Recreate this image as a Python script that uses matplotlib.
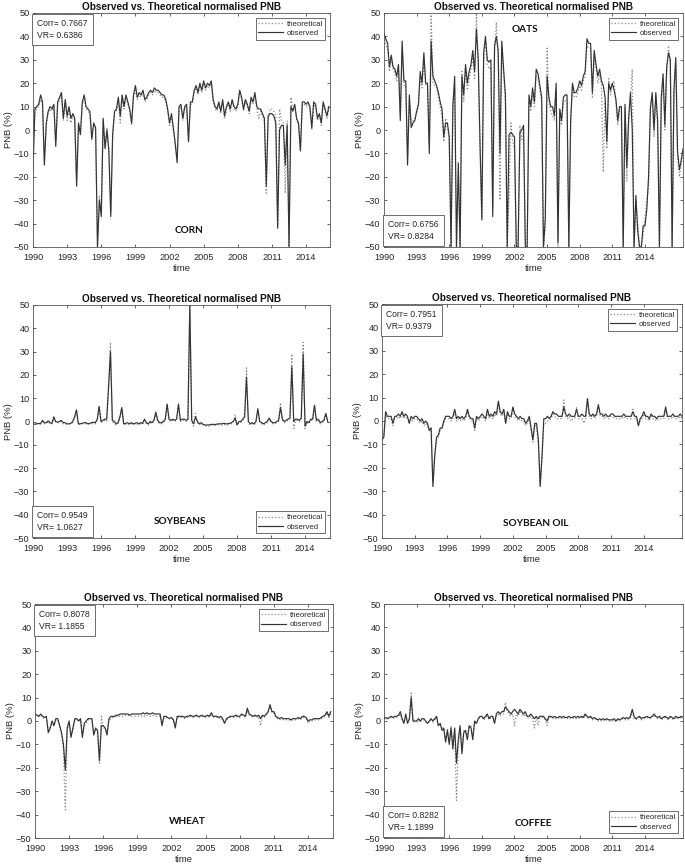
import numpy as np
import matplotlib
matplotlib.use('Agg')
from matplotlib import pyplot as plt

plt.rcParams['font.family'] = ['Liberation Sans', 'DejaVu Sans']

# bimonthly samples starting Jan 1990 (Jan, Mar, May, Jul, Sep, Nov)
corn_obs = [-17, 9, 10, 11, 15, 12, -15, 3, 8, 10, 9, 11, -7, 12, 14, 16, 5, 13,
            6, 10, 5, 7, 5, -24, 3, -2, 12, 15, 10, 9, 8, -4, 3, 1, -50, -30,
            -37, 5, -8, 0, -9, -37, -2, 8, 9, 14, 6, 15, 10, 15, 12, 9, 3, 15,
            19, 14, 16, 15, 17, 13, 14, 16, 17, 16, 18, 17, 17, 16, 15, 15, 13, 9,
            3, 7, 1, -6, -14, 10, 11, 5, 10, 11, -5, 12, 12, 17, 19, 16, 20, 17,
            21, 18, 20, 19, 21, 13, 10, 9, 12, 8, 13, 6, 10, 12, 9, 13, 10, 9,
            11, 17, 14, 9, 13, 11, 8, 14, 12, 16, 10, 9, 9, 7, 5, -24, 6, 7,
            7, 6, 3, -42, 0, 2, 2, -15, 2, -50, 10, 8, 11, 5, 3, -9, 12, 12,
            11, 12, 10, 1, 12, 11, 5, 7, 3, 12, 9, 6, 10]
corn_theo = [-14, 8, 9, 10, 13, 11, -13, 2, 7, 9, 8, 10, -5, 11, 13, 15, 4, 12,
             4, 8, 3, 6, 4, -22, 2, -1, 11, 13, 9, 8, 7, -3, 2, 1, -50, -28,
             -35, 4, -7, 1, -8, -35, -1, 7, 8, 12, 3, 13, 9, 14, 11, 8, 2, 14,
             17, 13, 15, 14, 16, 12, 13, 15, 16, 15, 17, 16, 16, 15, 14, 14, 12, 8,
             2, 6, 0, -5, -12, 9, 10, 4, 9, 10, -4, 11, 11, 16, 18, 15, 19, 16,
             20, 17, 19, 18, 20, 12, 9, 8, 11, 7, 12, 5, 9, 11, 8, 12, 9, 8,
             10, 16, 13, 8, 12, 10, 7, 13, 11, 15, 9, 5, 8, 6, 4, -27, 5, 9,
             9, 8, 6, -40, 9, 4, 3, -27, 4, -50, 14, 9, 10, 4, 2, -8, 11, 11,
             10, 11, 9, 0, 11, 10, 4, 6, 2, 11, 8, 5, 9]

oats_obs = [41, 39, 37, 27, 32, 27, 26, 23, 28, 4, 38, 21, 21, -15, 15, 1, 3, 4,
            8, 11, 25, 20, 33, 20, 20, -10, 38, 23, 21, 19, 16, 12, 9, -3, 3, 3,
            -3, -50, 10, 23, -50, -14, -50, 23, 15, 28, 20, 25, 28, 34, 25, 43, 30, -6,
            -38, 33, 40, 30, 29, 30, -37, 36, 40, 34, -10, 38, 26, 15, -50, -2, -1, -2,
            -3, -50, -50, -1, 0, 2, -50, -50, 15, 10, 18, 12, 26, 24, 19, 14, -50, -38,
            23, 14, 10, 10, 6, 20, -48, 9, 4, 14, 15, 15, -50, 4, 20, 16, 16, 18,
            21, 19, 23, 25, 39, 37, 37, 16, 34, 28, 23, 26, 21, 19, 14, -5, 20, 17,
            20, 17, 13, 4, 10, 10, -50, 11, -16, 5, 16, 0, -50, -28, -43, -50, -50, -41,
            -41, -34, -20, 9, 16, 0, 16, 4, -50, 14, 24, 2, 27, 33, 30, -50, 17, 31,
            -9, -17, -13, -8]
oats_theo = [40, 36, 35, 25, 30, 26, 24, 21, 26, 6, 34, 19, 19, -12, 13, 3, 4, 5,
             7, 10, 22, 18, 30, 19, 19, -6, 50, 20, 19, 18, 14, 10, 6, -5, 5, 1,
             -5, -50, 12, 18, -50, -20, -50, 25, 12, 26, 17, 22, 26, 31, 22, 50, 28, -10,
             -39, 30, 38, 28, 26, 27, -33, 33, 46, 30, -30, 35, 24, 12, -50, -29, 3, -5,
             -8, -50, -50, 2, -4, 0, -50, -50, 12, 8, 15, 10, 23, 22, 17, 12, -50, -42,
             35, 12, 8, 6, 4, 17, -50, 7, 2, 12, 13, 12, -50, 2, 18, 14, 14, 16,
             19, 17, 21, 23, 36, 35, 35, 14, 31, 26, 20, 24, 19, -18, 12, -8, 22, 15,
             20, 21, 11, 2, 8, 7, -50, 9, -22, 3, 14, 26, -50, -30, -40, -50, -50, -45,
             -38, -30, -25, 11, 14, -3, 14, 1, -50, 10, 21, 0, 24, 36, 28, -50, 15, 28,
             -12, -20, -15, -10]

soy_obs = [-1, -1.2, -1, -0.8, -1, 0.5, -0.5, -0.5, 0.3, -0.5, -0.8, 2,
           0, -0.3, 0, 0.5, -0.5, -0.5, -1, -1, -0.8, 0, 2, 5,
           -1, -1, -0.8, -0.5, -0.5, -1, -0.8, -0.5, -0.3, -0.5, 1, 6.5,
           0, 0.5, 1, 1, 15, 30, 0.5, 0, -1, -0.5, 2, 6,
           -1, -0.8, -0.5, -1, -0.5, -1, -0.8, -0.5, -1, -0.5, -0.8, 1,
           -0.5, -1, 0, -0.5, 0.5, 4, 0.5, -0.5, -0.5, 0, 1, 7.5,
           1, 0.5, 1, 0.5, 1, 7.5, 0.5, 1, 1, 0.5, 1, 50,
           0.5, -1, 2, 0, -1, -0.5, -1.2, -1.5, -1.5, -1.5, -1.3, -1.2,
           -1.3, -1.2, -1, -1, -1, -0.8, -1, -1, -0.8, -0.5, 0, 1.5,
           -1.5, 0, 0, 1, 2, 19, 0, -1, -0.5, -1, 0, 5.5,
           0, -0.5, -1, -0.5, 0, 1.5, 0, -0.5, -0.5, 0, 0.5, 6,
           1, 0, 0.5, 1, 1.5, 23.5, 0, 1, 1, 0.5, 1.5, 29,
           -2, 0, -0.5, 1, 1, 7, 0.5, 1, -0.5, 0, 0.5, 3.5, 0]
soy_theo = [-0.5, -1, -1, -1, -1, 0, -1, -1, 0, -1, -1, 1.5,
            -0.5, -0.5, -0.5, 0, -1, -1, -1.2, -1.2, -1, -0.5, 1.5, 4.5,
            -1.2, -1.2, -1, -1, -1, -1.2, -1, -1, -0.8, -1, 0.5, 6,
            -0.5, 0, 0.5, 0, 13, 34, 0, -1, -1.5, -1, 1.5, 5.5,
            -1.5, -1.2, -1, -1.5, -1, -1.2, -1.2, -1, -1.5, -1, -1.2, 0.5,
            -1, -1.5, -0.5, -1, 0, 3.5, 0, -1, -1, -0.5, 0.5, 7,
            0.5, 0, 0.5, 0, 0.5, 7, 0, 0.5, 0.5, 0, 0.5, 50,
            0, -2, 3.5, -0.5, -1.5, -1, -1.5, -2, -2, -2, -1.8, -1.5,
            -1.8, -1.5, -1.5, -1.5, -1.5, -1.2, -1.5, -1.5, -1.2, -1, -0.5, 3,
            -1.5, -0.5, -0.5, 0.5, 1.5, 23, -0.5, -1.5, -1, -1.5, -0.5, 5,
            -0.5, -1, -1.5, -1, -0.5, 1, -0.5, -1, -1, -0.5, 0, 8,
            0.5, -0.5, 0, 0.5, 1, 29, -3, 0.5, 0.5, 0, 1, 34,
            -3, -0.5, -1, 0.5, 0.5, 6.5, 0, 0.5, -1, -0.5, 0, 3, -0.5]

soyoil_obs = [-8, -7, 4, 2, 2, 2, -1, 2, 2, 3, 2, 4, 2, 3, 2, -1, 2, 1,
              2, 2, 1, 0, 1, -1, 0, -1, -4, -3, -28, -15, -7, -6, -3, -3, 0, 2,
              2, 2, 1, 2, 5, 1, 2, 1, 2, 1, 2, 5, 2, 1, 1, -3, 2, 1,
              2, 3, 2, 1, 5, 2, 3, 2, 4, 3, 8.5, 4, 3, 5, -1, 4, 2, 2,
              6, 3, 2, 1, 2, 1, 1, -1, 0, 2, -3, -8, -1, -1, -8, -28, -15, 1,
              1, 2, 1, 2, 4, 3, 3, 2, 2, 2, 6, 3, 2, 3, 2, 2, 2, 5,
              2, 2, 3, 2, 2, 9.5, 3, 2, 3, 2, 3, 7, 3, 3, 2, 3, 2, 2,
              3, 3, 2, 2, 2, 2, 2, 3, 2, 2, 2, 2, 4, 2, 2, -2, 1, 2,
              4, 2, 2, 1, 3, 2, 2, 1, 2, 2, 2, 2, 6, 2, 2, 2, 3, 2,
              2, 2, 3, 2]
soyoil_theo = [-7, -6, 3, 1, 1, 1, -2, 1, 1, 2, 1, 3, 1, 2, 1, -1, 1, 0,
               1, 1, 0, -1, 0, -2, -1, -2, -4, -3, -26, -14, -8, -7, -4, -3, -1, 1,
               1, 1, 0, 1, 4, 0, 1, 0, 1, 0, 1, 4, 1, 0, 0, -4, 1, 0,
               1, 2, 1, 0, 4, 1, 2, 1, 3, 2, 7.5, 3, 2, 4, -1, 3, 1, 1,
               5, 2, 1, 0, 1, 0, 0, -2, -1, 1, -4, -9, -2, -2, -10, -27, -16, -1,
               -1, 0, 0, 1, 3, 2, 1, 1, 1, 1, 9, 2, 1, 2, 0, 1, 1, 6,
               1, 1, 1, -1, 1, 10, 2, 1, 2, 1, 2, 6, 2, 2, 1, 2, 1, 1,
               2, 2, 1, 1, 1, 1, 1, 2, 1, 1, 1, 1, 5, 1, 1, -2, 0, 1,
               3, 1, 1, 0, 2, 1, 1, 0, 1, 1, 1, 1, 5, 1, 1, 1, 2, 1,
               1, 1, 2, 1]

wheat_obs = [3, 2.5, 2, 3, 2, 1.5, 2, -5, -3, 0, -2, 1, 1, -2, -5, -10, -21, -3,
             0, -7, -3, 1, 1, 0, 1, -7, -1, 0, 1, 1, 1, -6, -3, -4, -17, -2,
             -2, -3, -6, 1, 2, 2, 2, 2.5, 2.5, 3, 3, 3, 3, 3, 2.5, 3, 3, 3,
             3, 3, 3, 3.5, 3, 3.5, 3, 3, 3.5, 3, 3, 3, 3, -2, 2, 2, 1.5, 1,
             1.5, 0.5, -3, 2, 2, 2, 2, 1.5, 2, 2, 2.5, 2, 2, 2.5, 2, 2, 2.5, 2,
             2, 2.5, 2, 3.5, 2, 2, 2, 1.5, 2, 1, -1, 1, 1.5, 2, 2, 2, 2.5, 2,
             2, 3, 2.5, 2, 5.5, 3, 2.5, 2, 2.5, 2, 2.5, 1, 2.5, 2, 3, 4, 7, 4,
             4, 2, 1.5, 1, 1.5, 1, 1, 1, 1, 0.5, 1, 1, 1, 1.5, 1, 2, 2, 1.5,
             0, 0.5, 0.5, 1, 1, 1, 1, 1.5, 2, 2.5, 4, 2, 4]
wheat_theo = [2.5, 2, 2, 2.5, 1.5, 1, 1.5, -4, -3, -1, -2, 0.5, 0.5, -2, -6, -12, -38, -4,
              -1, -6, -4, 0, 0.5, 0, 0.5, -6, -2, -1, 0.5, 0.5, 0.5, -5, -4, -5, -18, 2,
              -3, -3, -5, 0, 1, 1.5, 1.5, 2, 2, 2, 2, 2.5, 2.5, 2.5, 2, 2, 2, 2,
              2, 2, 2, 2.5, 2, 2.5, 2, 2, 2.5, 2, 2, 2, 2, -1, 1.5, 1.5, 1, 1,
              1, 0.5, -2, 1.5, 1.5, 1.5, 1.5, 1, 1.5, 1.5, 2, 1.5, 1.5, 2, 1.5, 1.5, 2, 1.5,
              1.5, 2, 1.5, 3, 1.5, 1.5, 1.5, 1, 1.5, 0.5, -1, 0.5, 1, 1.5, 1.5, 1.5, 2, 1.5,
              1.5, 2.5, 2, 1.5, 4.5, 2.5, 2, 1.5, 2, 1.5, 2, -2, 2, 1.5, 2.5, 3.5, 6, 3.5,
              3.5, 1.5, 1, 0.5, 1, 0.5, 0.5, 0.5, 0.5, 0, 0.5, 0.5, 0.5, 1, 0.5, 1.5, 1.5, 1,
              -1, 0, 0, 0.5, 0.5, 0.5, 0.5, 1, 1.5, 2, 3.5, 1.5, 3]

coffee_obs = [1, 1.5, 1, 1.5, 2, 1.5, 2, 2, 2.5, 4, 1, -1, 3, -1, 1, 10, 0, 0,
              0, 1, 0, 1, 1, 0, -1, 0, 1, 0, 1, 2, -2, -1, -4, -3, -9, -4,
              -10, -3, -12, -3, -18, -8, -2, -14, -5, -4, -8, -2, -3, -8, 0, -1, 1, 2,
              2, 1, 2, 3, 1, 2, 2, -1, 3, 4, 3, 4, 4, 6, 5, 4, 3, 4,
              5, 4, 3, 5, 4, 3, 4, 2, 2, 3, 2, 1, 2, 1, 2, 2, 2, 1,
              0, 2, 2, 1.5, 2, 1.5, 1.5, 2, 1.5, 2, 1.5, 1.5, 2, 1.5, 1.5, 2, 1.5, 2,
              1.5, 2, 1.5, 3, 2, 1.5, 2, 1, 1.5, 1, 0.5, 1, 0.5, 1, 0.5, 1, 0.5, 0.5,
              0.5, 1, 0, 1, 0.5, 1, 1.5, 1, 1.5, 1, 2, 5, 2, 1, 1.5, 2, 1, 1.5,
              1.5, 2, 1.5, 1.5, 2, 3, 2, 1.5, 2, 1, 1.5, 2, 1.5, 1, 2, 1.5, 1, 2,
              1.5, 1.5, 2, 1.5]
coffee_theo = [1, 1, 1, 1, 1.5, 1, 1.5, 1.5, 2, 3, 0, -0.5, 2, -0.5, 0.5, 12, 0, -0.5,
               -0.5, 0.5, -0.5, 0.5, 0.5, -0.5, -1, -0.5, 0.5, -0.5, 0.5, 1.5, -2, -1.5, -3, -4, -8, -3,
               -9, -2, -10, -4, -34, -10, -3, -12, -4, -5, -6, -3, -2, -7, -1, -1, 0.5, 1.5,
               1.5, 0.5, 1.5, 2, 0.5, 1.5, 1.5, -1, 2, 3, 2, 3, 3, 8, 4, 3, 2, 3,
               -2, 3, 2, 4, 3, 2, 3, 1.5, 1, 2, 1, -3, 1.5, -2, 1.5, 1.5, 1.5, 0.5,
               -2, 1.5, 1.5, 1, 1.5, 1, 1, 1.5, 1, 1.5, 1, 1, 1.5, 1, 1, 1.5, 1, 1.5,
               1, 1.5, 1, 2.5, 1.5, 1, 1.5, 0.5, 1, 0.5, 0, 0.5, 0, 0.5, 0, 0.5, 0, 0,
               0, 0.5, -0.5, 0.5, 0, 0.5, 1, 0.5, 1, 0.5, 1.5, 4, 1, 0.5, 1, 1.5, 0.5, 1,
               1, 1.5, 1, 1, 1.5, 2.5, 1.5, 1, 1.5, 0.5, 1, 1.5, 1, 0.5, 1.5, 1, 0.5, 1.5,
               1, 1, 1.5, 1]

names = ['CORN', 'OATS', 'SOYBEANS', 'SOYBEAN OIL', 'WHEAT', 'COFFEE']
corr = ['0.7667', '0.6756', '0.9549', '0.7951', '0.8078', '0.8282']
vr = ['0.6386', '0.8284', '1.0627', '0.9379', '1.1855', '1.1899']
observed = [corn_obs, oats_obs, soy_obs, soyoil_obs, wheat_obs, coffee_obs]
theoretical = [corn_theo, oats_theo, soy_theo, soyoil_theo, wheat_theo, coffee_theo]
x_end = [2016.1, 2017.5, 2016.2, 2017.5, 2016.2, 2017.5]

# layout (pixels): left, top, right, bottom
boxes = [(33, 13, 330, 247), (384, 13, 683, 247),
         (33, 305, 330, 538), (382, 304, 682, 538),
         (35, 604, 333, 838), (384, 604, 683, 838)]
stat_top = [True, False, False, True, True, False]
leg_loc = ['upper right', 'upper right', 'lower right', 'upper right', 'upper right', 'lower right']
name_pos = [(2003.7, -43), (2003.0, 43), (2003.0, -43), (2004.1, -44), (2003.4, -43), (2003.7, -44)]

W, H = 685, 868
fig = plt.figure(figsize=(W / 100, H / 100), dpi=100)
dark = '#262626'

for i in range(6):
    l, t, r, b = boxes[i]
    ax = fig.add_axes([l / W, 1 - b / H, (r - l) / W, (b - t) / H])
    obs = np.array(observed[i])
    theo = np.array(theoretical[i])
    tt = 1990 + np.arange(len(obs)) / 6
    ax.plot(tt, theo, ls=':', color='#8a8a8a', lw=0.9, label='theoretical')
    ax.plot(tt, obs, ls='-', color='#333333', lw=0.85, label='observed')
    ax.set_xlim(1990, x_end[i])
    ax.set_ylim(-50, 50)
    ax.set_xticks(np.arange(1990, 2015, 3))
    ax.set_yticks(np.arange(-50, 51, 10))
    ax.tick_params(direction='in', top=True, right=True, length=2.5, width=0.5,
                   labelsize=6.6, colors=dark)
    ax.tick_params(axis='x', pad=4)
    ax.tick_params(axis='y', pad=2.5)
    for s in ax.spines.values():
        s.set_color('#555555')
        s.set_linewidth(0.6)
    ax.set_title('Observed vs. Theoretical normalised PNB', fontsize=7.2,
                 fontweight='bold', color='#111111', pad=2)
    ax.set_xlabel('time', fontsize=6.8, color=dark, labelpad=1.5)
    ax.set_ylabel('PNB (%)', fontsize=6.8, color=dark, labelpad=1)

    txt = 'Corr= ' + corr[i] + '\nVR= ' + vr[i]
    if stat_top[i]:
        ax.text(0.015, 0.975, txt, transform=ax.transAxes, va='top', ha='left',
                fontsize=6.2, color=dark, linespacing=1.4,
                bbox=dict(boxstyle='square,pad=0.6', fc='white', ec='#555555', lw=0.6))
    else:
        ax.text(0.015, 0.025, txt, transform=ax.transAxes, va='bottom', ha='left',
                fontsize=6.2, color=dark, linespacing=1.4,
                bbox=dict(boxstyle='square,pad=0.6', fc='white', ec='#555555', lw=0.6))

    leg = ax.legend(loc=leg_loc[i], fontsize=5.6, handlelength=3.2, handletextpad=0.4,
                    labelspacing=0.25, borderpad=0.35, borderaxespad=0.6,
                    fancybox=False, framealpha=1)
    leg.get_frame().set_edgecolor('#555555')
    leg.get_frame().set_linewidth(0.6)
    for tx in leg.get_texts():
        tx.set_color(dark)

    ax.text(name_pos[i][0], name_pos[i][1], names[i], ha='center', va='center',
            fontsize=7.2, fontweight='bold', family='Lato', color='#111111')

fig.savefig('out.png', dpi=100)
